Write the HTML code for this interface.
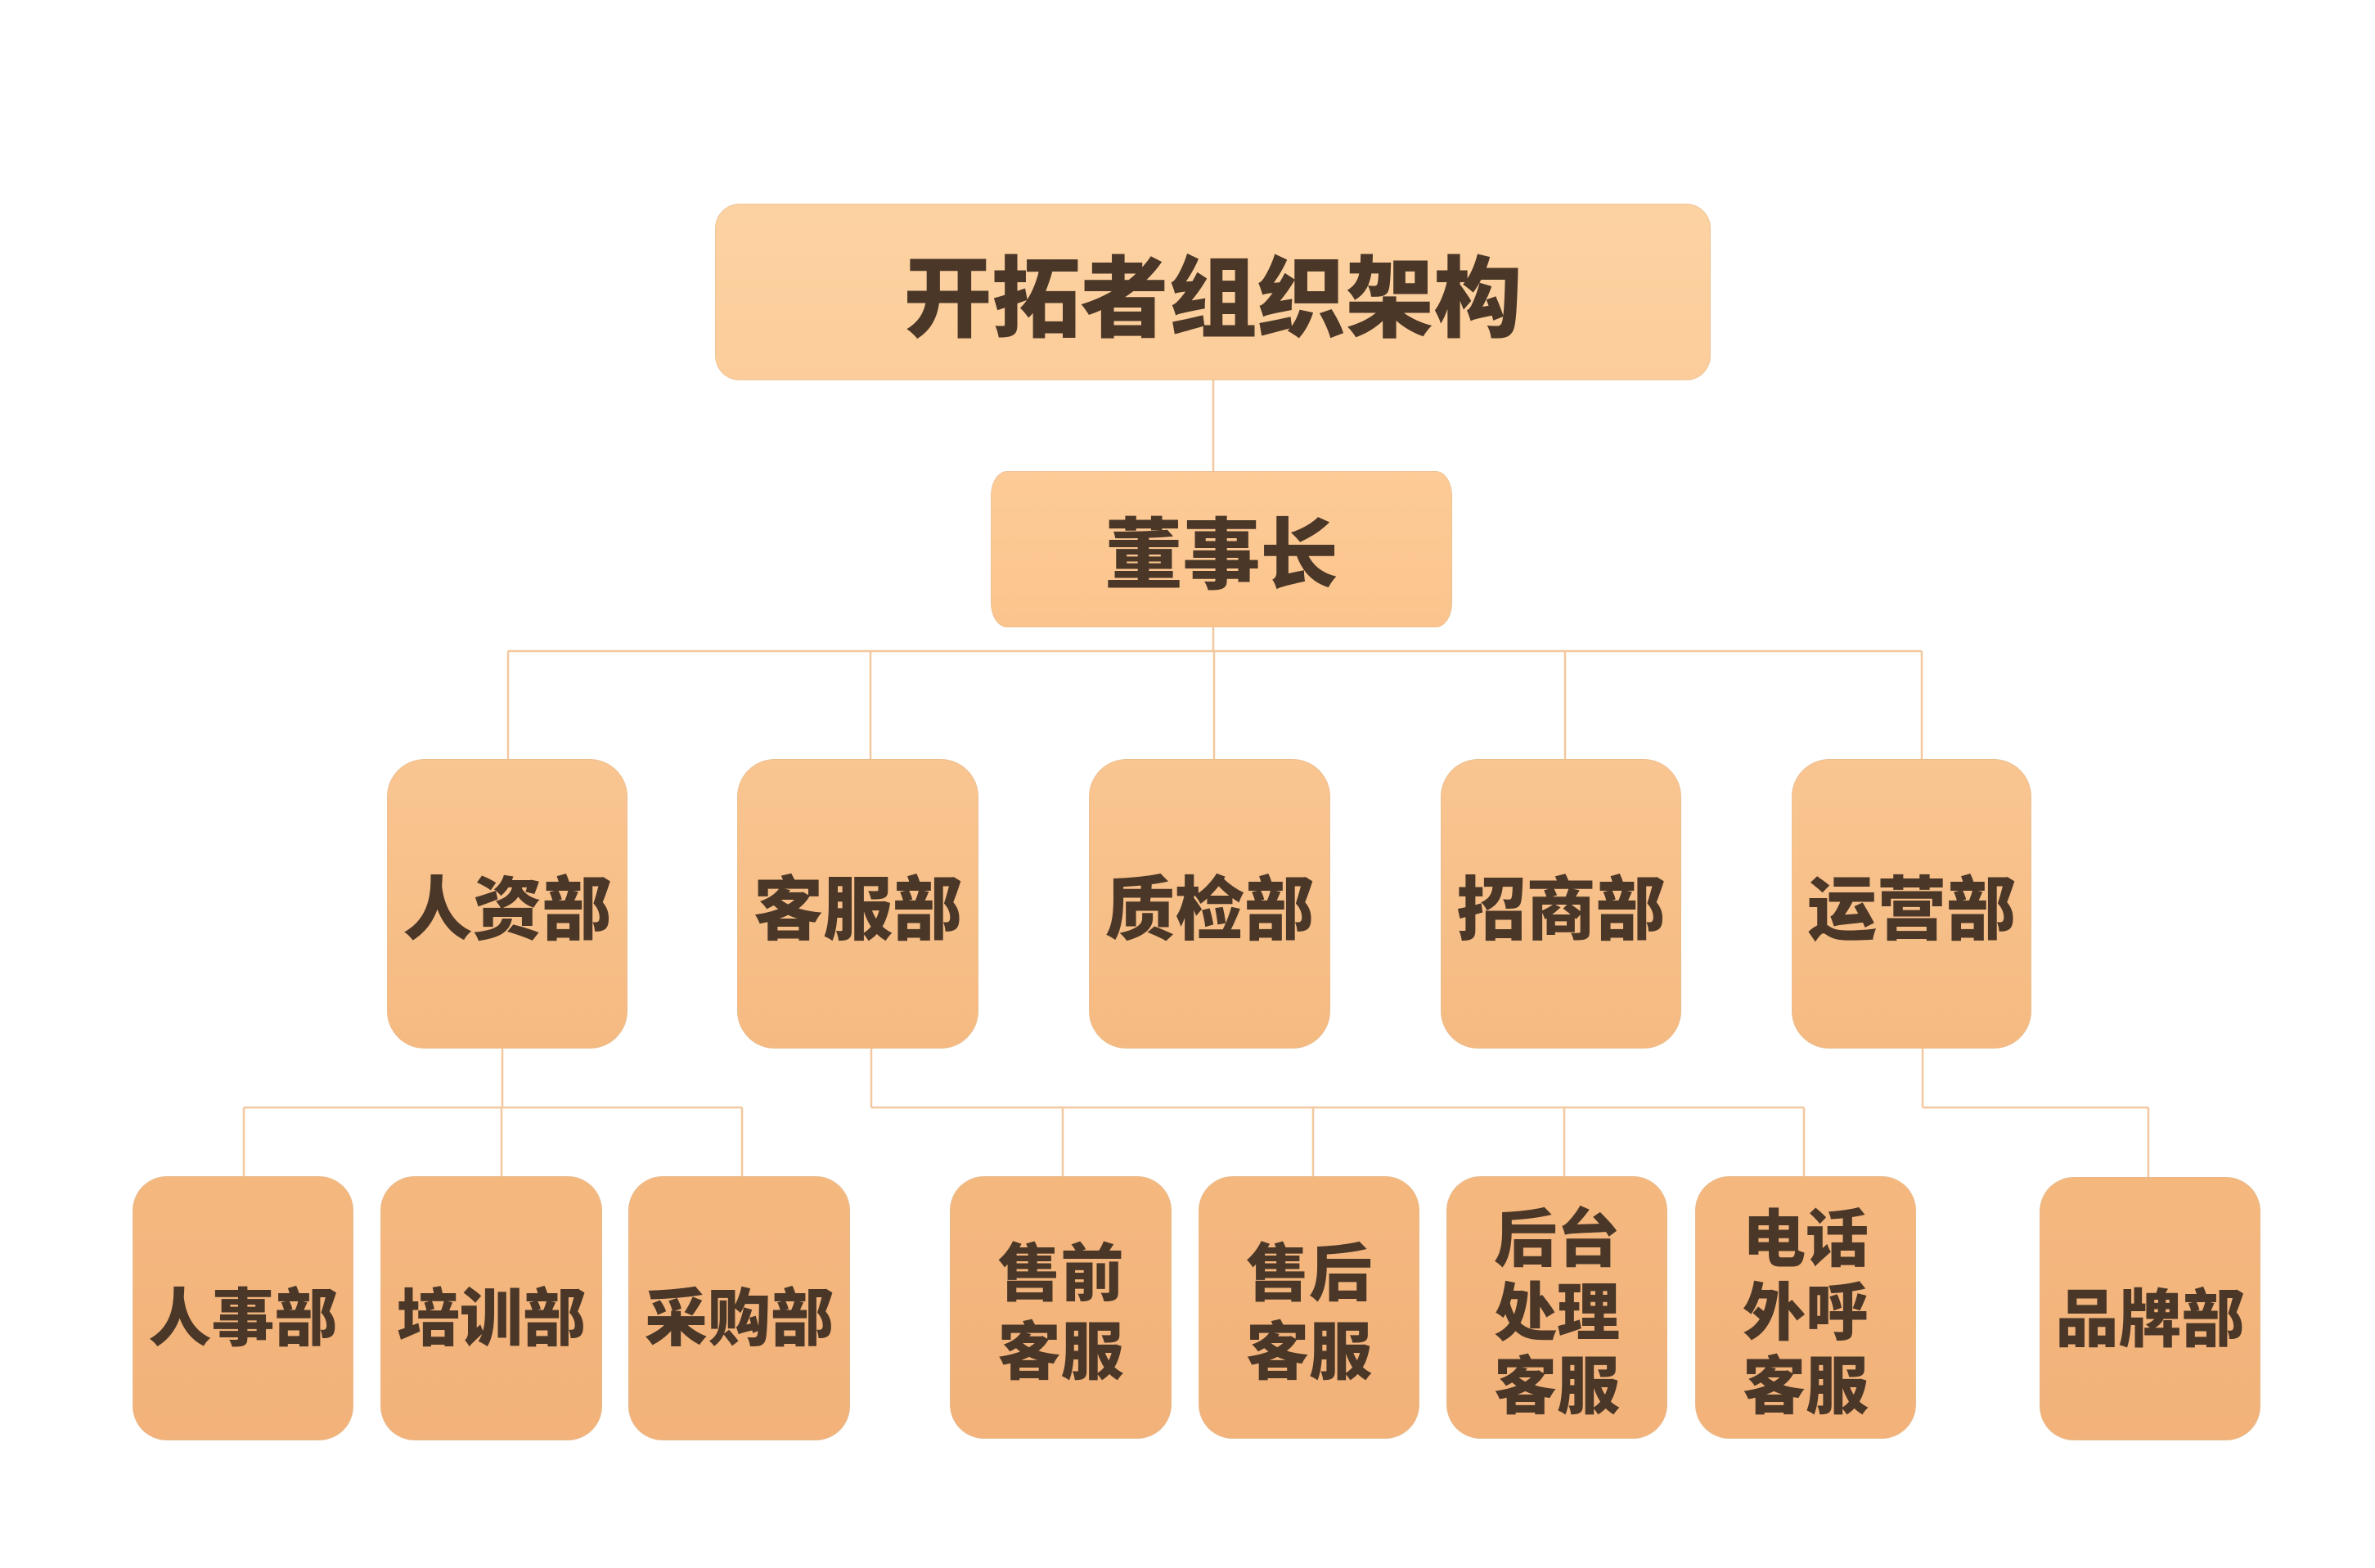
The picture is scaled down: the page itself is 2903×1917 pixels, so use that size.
<!DOCTYPE html>
<html>
<head>
<meta charset="utf-8">
<style>
  html, body { margin:0; padding:0; background:#ffffff; }
  body { width:2903px; height:1917px; position:relative; overflow:hidden;
         font-family:"Liberation Sans","Noto Sans CJK SC","WenQuanYi Zen Hei",sans-serif; }
  .box { position:absolute; box-sizing:border-box; display:flex; align-items:center; justify-content:center;
         text-align:center; color:#4b3727; font-weight:900; border:1px solid rgba(225,190,150,0.55); }
  .t0 { background:linear-gradient(#fdd2a2,#fccd9a); border-radius:30px; font-size:108px; letter-spacing:0; }
  .t1 { background:linear-gradient(#fdcb97,#fbc48d); border-radius:20px / 30px; font-size:95px; }
  .t2 { background:linear-gradient(#f9c591,#f5ba81); border-radius:46px; font-size:85px; }
  .t3 { background:linear-gradient(#f4b87f,#f2b27a); border-radius:42px; font-size:77px; padding-top:14px; }
  .l2 { line-height:96px; }
  .l3 { line-height:90px; }
  svg { position:absolute; left:0; top:0; }
</style>
</head>
<body>
<svg width="2903" height="1917" viewBox="0 0 2903 1917">
  <g stroke="#f3c89e" stroke-width="2.5" fill="none">
    <line x1="1483" y1="465" x2="1483" y2="576"/>
    <line x1="1483" y1="767" x2="1483" y2="796"/>
    <line x1="621" y1="796" x2="2349" y2="796"/>
    <line x1="621" y1="796" x2="621" y2="929"/>
    <line x1="1064" y1="796" x2="1064" y2="929"/>
    <line x1="1484" y1="796" x2="1484" y2="929"/>
    <line x1="1913" y1="796" x2="1913" y2="929"/>
    <line x1="2349" y1="796" x2="2349" y2="929"/>
    <line x1="614" y1="1282" x2="614" y2="1354"/>
    <line x1="298" y1="1354" x2="907" y2="1354"/>
    <line x1="298" y1="1354" x2="298" y2="1439"/>
    <line x1="613" y1="1354" x2="613" y2="1439"/>
    <line x1="907" y1="1354" x2="907" y2="1439"/>
    <line x1="1065" y1="1282" x2="1065" y2="1354"/>
    <line x1="1065" y1="1354" x2="2205" y2="1354"/>
    <line x1="1299" y1="1354" x2="1299" y2="1439"/>
    <line x1="1605" y1="1354" x2="1605" y2="1439"/>
    <line x1="1912" y1="1354" x2="1912" y2="1439"/>
    <line x1="2205" y1="1354" x2="2205" y2="1439"/>
    <line x1="2350" y1="1282" x2="2350" y2="1354"/>
    <line x1="2350" y1="1354" x2="2626" y2="1354"/>
    <line x1="2626" y1="1354" x2="2626" y2="1439"/>
  </g>
</svg>

<div class="box t0" style="left:874px;top:249px;width:1217px;height:216px;">开拓者组织架构</div>
<div class="box t1" style="left:1211px;top:576px;width:564px;height:191px;">董事长</div>

<div class="box t2" style="left:473px;top:928px;width:294px;height:354px;">人资部</div>
<div class="box t2" style="left:901px;top:928px;width:295px;height:354px;">客服部</div>
<div class="box t2" style="left:1331px;top:928px;width:295px;height:354px;">质检部</div>
<div class="box t2" style="left:1761px;top:928px;width:294px;height:354px;">招商部</div>
<div class="box t2" style="left:2190px;top:928px;width:293px;height:354px;">运营部</div>

<div class="box t3" style="left:162px;top:1438px;width:270px;height:323px;">人事部</div>
<div class="box t3" style="left:465px;top:1438px;width:271px;height:323px;">培训部</div>
<div class="box t3" style="left:768px;top:1438px;width:271px;height:323px;">采购部</div>
<div class="box t3 l2" style="left:1161px;top:1438px;width:271px;height:321px;">售前<br>客服</div>
<div class="box t3 l2" style="left:1465px;top:1438px;width:270px;height:321px;">售后<br>客服</div>
<div class="box t3 l3" style="left:1768px;top:1438px;width:270px;height:321px;">后台<br>处理<br>客服</div>
<div class="box t3 l3" style="left:2072px;top:1438px;width:270px;height:321px;">电话<br>外呼<br>客服</div>
<div class="box t3" style="left:2493px;top:1439px;width:270px;height:322px;">品牌部</div>
</body>
</html>
